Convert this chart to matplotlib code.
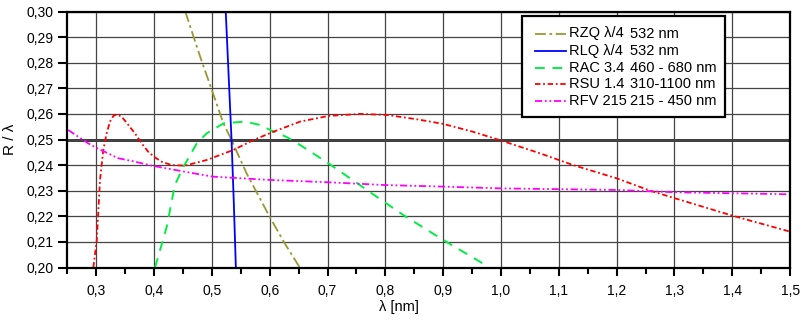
import numpy as np
import matplotlib
matplotlib.use('Agg')
import matplotlib.pyplot as plt
from matplotlib.lines import Line2D
from matplotlib.patches import Rectangle
from matplotlib.ticker import MultipleLocator, FuncFormatter

# curvas R/lambda frente a lambda, leidas punto a punto
rzq_x = [0.454, 0.480, 0.500, 0.520, 0.534, 0.560, 0.600, 0.625, 0.652]
rzq_y = [0.300, 0.2822, 0.2693, 0.2563, 0.2498, 0.2368, 0.2198, 0.2098, 0.2000]

rlq_x = [0.524, 0.529, 0.534, 0.538, 0.5415]
rlq_y = [0.300, 0.275, 0.250, 0.225, 0.200]

rac_x = [0.4017, 0.422, 0.436, 0.451, 0.474, 0.491, 0.520, 0.557, 0.583, 0.601,
         0.630, 0.653, 0.7016, 0.768, 0.831, 0.9005, 0.970, 0.975]
rac_y = [0.200, 0.2159, 0.2322, 0.2394, 0.2485, 0.2524, 0.2563, 0.2570, 0.2557, 0.2537,
         0.2509, 0.2478, 0.2407, 0.2303, 0.2205, 0.2107, 0.2014, 0.2000]

rsu_x = [0.295, 0.301, 0.3066, 0.3123, 0.318, 0.3239, 0.3296, 0.3355, 0.3441, 0.3556,
         0.367, 0.3787, 0.390, 0.4017, 0.4133, 0.4306, 0.4536, 0.491, 0.537, 0.572,
         0.606, 0.6526, 0.7016, 0.756, 0.803, 0.8545, 0.900, 0.952, 1.0016, 1.0675,
         1.125, 1.2005, 1.258, 1.3014, 1.401, 1.500]
rsu_y = [0.200, 0.2107, 0.2342, 0.2459, 0.2524, 0.2570, 0.2592, 0.2598, 0.2589, 0.2557,
         0.2524, 0.2485, 0.2452, 0.2430, 0.2413, 0.2400, 0.2398, 0.2420, 0.2459, 0.2498,
         0.2530, 0.2570, 0.2592, 0.2600, 0.2596, 0.2579, 0.2561, 0.2530, 0.2495, 0.2446,
         0.2400, 0.2348, 0.2300, 0.2270, 0.2202, 0.2140]

rfv_x = [0.2517, 0.2863, 0.300, 0.338, 0.364, 0.396, 0.4536, 0.5015, 0.601, 0.7016,
         0.801, 0.9005, 1.0016, 1.2005, 1.3014, 1.401, 1.500]
rfv_y = [0.2537, 0.2485, 0.2468, 0.2427, 0.2415, 0.2398, 0.2374, 0.2355, 0.2342, 0.2333,
         0.2322, 0.2316, 0.2309, 0.2303, 0.2294, 0.2290, 0.2286]

nombres = ['RZQ λ/4', 'RLQ λ/4', 'RAC 3.4', 'RSU 1.4', 'RFV 215']
rangos = ['532 nm', '532 nm', '460 - 680 nm', '310-1100 nm', '215 - 450 nm']

#* estilos de cada curva
estilos = [
  dict(color='#999933', lw=1.3, dashes=(6, 2, 1.5, 2)),
  dict(color='#0000ff', lw=1.3),
  dict(color='#00ee44', lw=1.4, dashes=(5, 4)),
  dict(color='#ff0000', lw=1.3, dashes=(3, 1.5, 1, 1.5)),
  dict(color='#ff00ff', lw=1.3, dashes=(4, 1.5, 1, 1.5, 1, 1.5)),
]

plt.rcParams['font.family'] = ['Liberation Sans', 'DejaVu Sans']

W, H = 803, 326
fig = plt.figure(figsize=(W / 100, H / 100), dpi=100)
ax = fig.add_axes([0.0838, 0.1794, 0.9002, 0.7853])

ax.set_xlim(0.25, 1.5)
ax.set_ylim(0.20, 0.30)

#* rejilla
ax.xaxis.set_major_locator(MultipleLocator(0.1))
ax.xaxis.set_minor_locator(MultipleLocator(0.05))
ax.yaxis.set_major_locator(MultipleLocator(0.01))
ax.grid(True, which='major', color='#444444', lw=0.9)
ax.axhline(0.25, color='black', lw=1.8, zorder=1)

#* curvas
series = [(rzq_x, rzq_y), (rlq_x, rlq_y), (rac_x, rac_y), (rsu_x, rsu_y), (rfv_x, rfv_y)]
for (xs, ys), st in zip(series, estilos):
  ax.plot(xs, ys, **st)

for s in ax.spines.values():
  s.set_linewidth(1.6)

ax.xaxis.set_major_formatter(FuncFormatter(lambda v, p: f'{v:.1f}'.replace('.', ',')))
ax.yaxis.set_major_formatter(FuncFormatter(lambda v, p: f'{v:.2f}'.replace('.', ',')))
ax.tick_params(axis='y', which='major', direction='out', length=6.5, width=1.5,
               labelsize=10, color='black', pad=3.6)
ax.tick_params(axis='x', which='major', direction='out', length=6, width=1.5,
               labelsize=10, color='black', pad=6)
ax.tick_params(axis='x', which='minor', direction='out', length=4, width=1.5)

ax.set_ylabel('R / λ', fontsize=11)
ax.set_xlabel('λ [nm]', fontsize=10.5)
ax.xaxis.set_label_coords(0.459, -0.125)
ax.yaxis.set_label_coords(-0.07, 0.5)

#* leyenda dibujada a mano (dos columnas de texto)
def fx(px):
  return px / W

def fy(py):
  return 1 - py / H

fig.add_artist(Rectangle((fx(521.7), fy(117.3)), fx(725) - fx(521.7), fy(15.7) - fy(117.3),
                         transform=fig.transFigure, facecolor='white', edgecolor='black',
                         lw=1.6, zorder=5))
filas = [33.5, 51, 67.5, 84.5, 101]
for py, st, nom, ran in zip(filas, estilos, nombres, rangos):
  fig.add_artist(Line2D([fx(535), fx(566)], [fy(py), fy(py)], transform=fig.transFigure,
                        zorder=6, **st))
  fig.text(fx(569), fy(py), nom, fontsize=10.5, va='center', ha='left', zorder=7)
  fig.text(fx(630), fy(py), ran, fontsize=10.5, va='center', ha='left', zorder=7)

fig.savefig('out.png', dpi=100)
